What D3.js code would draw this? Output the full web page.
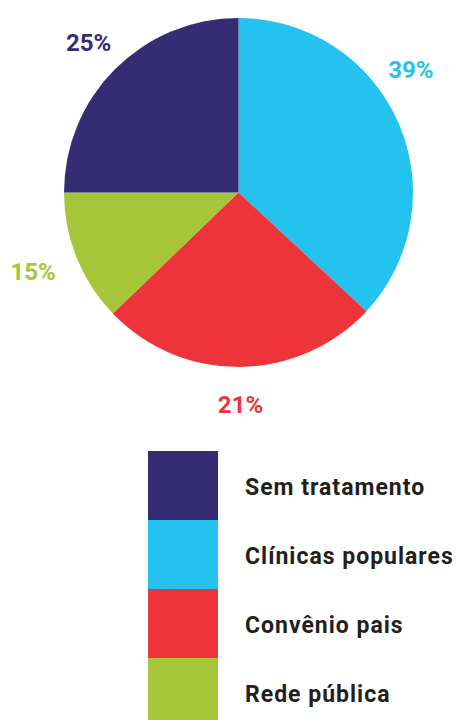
<!DOCTYPE html>
<html>
<head>
<meta charset="utf-8">
<script src="https://cdn.jsdelivr.net/npm/d3@7"></script>
<style>
  html, body { margin: 0; padding: 0; background: #ffffff; }
  svg { display: block; }
</style>
</head>
<body>
<svg id="chart" width="456" height="720"></svg>
<script>
// ---- data ----
const categories = ["Clínicas populares", "Convênio pais", "Rede pública", "Sem tratamento"];
// slice shares as drawn in the picture (angles)
const sliceValues = [36.9, 25.9, 12.2, 25.0];
// printed percentage labels
const labelTexts = ["39%", "21%", "15%", "25%"];
const colors = ["#24c3ef", "#ee343b", "#a6c639", "#352c74"];
const legendOrder = ["Sem tratamento", "Clínicas populares", "Convênio pais", "Rede pública"];

// ---- layout ----
const W = 456, H = 720;
const cx = 238.5, cy = 192.5, R = 174.5;
const labelR = 212;
const labelAngleShift = { "Clínicas populares": -12, "Rede pública": 1 }; // degrees
const labelRadiusShift = { "Rede pública": 8 };
const legend = { x: 148, y: 451, sw: 70, sh: 69, tx: 245 };

const svg = d3.select("#chart");
const color = d3.scaleOrdinal().domain(categories).range(colors);

const data = categories.map((c, i) => ({ cat: c, value: sliceValues[i], label: labelTexts[i] }));
const pie = d3.pie().sort(null).value(d => d.value).startAngle(0).endAngle(2 * Math.PI);
const arc = d3.arc().innerRadius(0).outerRadius(R);
const arcs = pie(data);

const g = svg.append("g").attr("transform", `translate(${cx},${cy})`);
g.selectAll("path.slice").data(arcs).join("path")
  .attr("class", "slice")
  .attr("d", arc)
  .attr("fill", d => color(d.data.cat));

g.selectAll("text.pct").data(arcs).join("text")
  .attr("class", "pct")
  .each(function (d) {
    const a = (d.startAngle + d.endAngle) / 2 + ((labelAngleShift[d.data.cat] || 0) * Math.PI / 180);
    const r = labelR + (labelRadiusShift[d.data.cat] || 0);
    d3.select(this)
      .attr("x", r * Math.sin(a))
      .attr("y", -r * Math.cos(a));
  })
  .attr("dy", "0.35em")
  .attr("text-anchor", "middle")
  .attr("font-family", "Roboto, sans-serif")
  .attr("font-weight", 700)
  .attr("font-size", 24)
  .attr("fill", d => color(d.data.cat))
  .text(d => d.data.label);

// ---- legend ----
const ly = d3.scaleBand().domain(legendOrder).range([legend.y, legend.y + legend.sh * legendOrder.length]).padding(0);
const lg = svg.append("g");
lg.selectAll("rect").data(legendOrder).join("rect")
  .attr("x", legend.x)
  .attr("y", d => ly(d))
  .attr("width", legend.sw)
  .attr("height", ly.bandwidth())
  .attr("fill", d => color(d));
lg.selectAll("text").data(legendOrder).join("text")
  .attr("x", legend.tx)
  .attr("y", d => ly(d) + ly.bandwidth() / 2 + 9.5)
  .attr("font-family", "Roboto, sans-serif")
  .attr("font-weight", 700)
  .attr("font-size", 23)
  .attr("letter-spacing", "1px")
  .attr("fill", "#231f20")
  .text(d => d);
</script>
</body>
</html>
